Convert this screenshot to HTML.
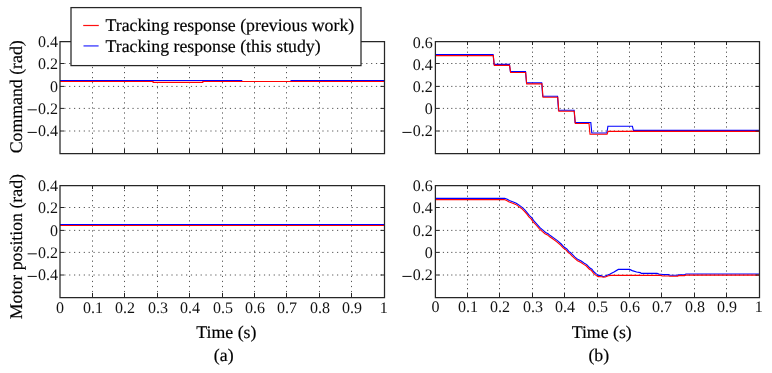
<!DOCTYPE html>
<html><head><meta charset="utf-8"><title>Tracking response</title>
<style>
html,body{margin:0;padding:0;background:#fff;}
body{width:772px;height:373px;overflow:hidden;}
svg{display:block;will-change:transform;}
text{font-family:"Liberation Serif",serif;fill:#111;text-rendering:geometricPrecision;}
.tk{font-size:16px;}
.lb{font-size:17.8px;fill:#000;stroke:#000;stroke-width:0.18px;}
.g{stroke:#555;stroke-width:1;fill:none;}
.t{stroke:#262626;stroke-width:1;fill:none;}
.f{stroke:#262626;stroke-width:1.25;fill:none;}
.b{stroke:#0000ff;stroke-width:1.15;fill:none;stroke-linejoin:miter;}
.r{stroke:#ff0000;stroke-width:1.1;fill:none;stroke-linejoin:miter;}
</style></head>
<body>
<svg width="772" height="373" viewBox="0 0 772 373">
<rect width="772" height="373" fill="#fff"/>
<path d="M92.5 41.5V153.5M124.5 41.5V153.5M157.5 41.5V153.5M189.5 41.5V153.5M222.5 41.5V153.5M254.5 41.5V153.5M286.5 41.5V153.5M319.5 41.5V153.5M351.5 41.5V153.5" class="g" stroke-dasharray="1.2 3.850" stroke-dashoffset="-0.200"/>
<path d="M60.0 63.5H384.5M60.0 86.4H384.5M60.0 108.4H384.5M60.0 131.0H384.5" class="g" stroke-dasharray="1.2 3.670" stroke-dashoffset="0.600"/>
<polyline points="60.0,80.5 241.7,80.5 241.7,81.5 291.1,81.5 291.1,80.5 384.4,80.5" class="b"/>
<polyline points="60.0,81.5 153.1,81.5 153.1,82.4 202.8,82.4 202.8,81.5 384.4,81.5" class="r"/>
<path d="M92.5 41.5v3.5M92.5 153.5v-4.5M124.5 41.5v3.5M124.5 153.5v-4.5M157.5 41.5v3.5M157.5 153.5v-4.5M189.5 41.5v3.5M189.5 153.5v-4.5M222.5 41.5v3.5M222.5 153.5v-4.5M254.5 41.5v3.5M254.5 153.5v-4.5M286.5 41.5v3.5M286.5 153.5v-4.5M319.5 41.5v3.5M319.5 153.5v-4.5M351.5 41.5v3.5M351.5 153.5v-4.5M60.0 63.5h4M384.5 63.5h-4M60.0 86.4h4M384.5 86.4h-4M60.0 108.4h4M384.5 108.4h-4M60.0 131.0h4M384.5 131.0h-4" class="t"/>
<path d="M60.0 41.5H384.5V153.5H60.0Z" class="f"/>
<text transform="translate(58.00 46.95) scale(1 1.0)" class="tk" text-anchor="end">0.4</text>
<text transform="translate(58.00 68.95) scale(1 1.0)" class="tk" text-anchor="end">0.2</text>
<text transform="translate(58.00 91.85) scale(1 1.0)" class="tk" text-anchor="end">0</text>
<text transform="translate(58.00 113.85) scale(1 1.0)" class="tk" text-anchor="end">0.2</text>
<rect x="27.60" y="109.30" width="9.2" height="1.05" fill="#1a1a1a"/>
<text transform="translate(58.00 136.45) scale(1 1.0)" class="tk" text-anchor="end">0.4</text>
<rect x="27.60" y="131.90" width="9.2" height="1.05" fill="#1a1a1a"/>
<path d="M467.5 41.5V153.5M499.5 41.5V153.5M532.5 41.5V153.5M564.5 41.5V153.5M597.5 41.5V153.5M629.5 41.5V153.5M661.5 41.5V153.5M694.5 41.5V153.5M726.5 41.5V153.5" class="g" stroke-dasharray="1.2 3.200" stroke-dashoffset="-1.300"/>
<path d="M435.4 63.5H759.5M435.4 86.4H759.5M435.4 108.4H759.5M435.4 131.0H759.5" class="g" stroke-dasharray="1.2 2.970" stroke-dashoffset="0.900"/>
<polyline points="435.3,54.5 493.1,54.5 494.1,64.4 509.4,64.4 510.4,71.5 525.5,71.5 526.5,82.9 541.7,82.9 542.7,96.2 557.5,96.2 558.5,110.2 574.1,110.2 575.1,122.5 590.8,122.5 591.8,133.0 606.9,133.0 607.9,126.2 632.4,126.2 633.4,130.3 759.5,130.3" class="b"/>
<polyline points="435.3,55.6 493.3,55.6 494.3,65.4 509.6,65.4 510.6,72.5 525.7,72.5 526.7,83.9 542.0,83.9 543.0,97.2 557.8,97.2 558.8,111.2 574.3,111.2 575.3,123.5 589.0,123.5 590.0,134.2 607.1,134.2 608.1,131.4 759.5,131.4" class="r"/>
<path d="M467.5 41.5v3.5M467.5 153.5v-4.5M499.5 41.5v3.5M499.5 153.5v-4.5M532.5 41.5v3.5M532.5 153.5v-4.5M564.5 41.5v3.5M564.5 153.5v-4.5M597.5 41.5v3.5M597.5 153.5v-4.5M629.5 41.5v3.5M629.5 153.5v-4.5M661.5 41.5v3.5M661.5 153.5v-4.5M694.5 41.5v3.5M694.5 153.5v-4.5M726.5 41.5v3.5M726.5 153.5v-4.5M435.4 63.5h4M759.5 63.5h-4M435.4 86.4h4M759.5 86.4h-4M435.4 108.4h4M759.5 108.4h-4M435.4 131.0h4M759.5 131.0h-4" class="t"/>
<path d="M435.4 41.5H759.5V153.5H435.4Z" class="f"/>
<text transform="translate(432.80 47.85) scale(1 1.0)" class="tk" text-anchor="end">0.6</text>
<text transform="translate(432.80 69.85) scale(1 1.0)" class="tk" text-anchor="end">0.4</text>
<text transform="translate(432.80 91.85) scale(1 1.0)" class="tk" text-anchor="end">0.2</text>
<text transform="translate(432.80 113.85) scale(1 1.0)" class="tk" text-anchor="end">0</text>
<text transform="translate(432.80 136.45) scale(1 1.0)" class="tk" text-anchor="end">0.2</text>
<rect x="402.40" y="131.90" width="9.2" height="1.05" fill="#1a1a1a"/>
<path d="M92.5 185.5V297.5M124.5 185.5V297.5M157.5 185.5V297.5M189.5 185.5V297.5M222.5 185.5V297.5M254.5 185.5V297.5M286.5 185.5V297.5M319.5 185.5V297.5M351.5 185.5V297.5" class="g" stroke-dasharray="1.2 3.850" stroke-dashoffset="0.600"/>
<path d="M60.0 207.5H384.5M60.0 230.4H384.5M60.0 252.4H384.5M60.0 275.0H384.5" class="g" stroke-dasharray="1.2 3.670" stroke-dashoffset="0.600"/>
<polyline points="60.0,224.5 384.4,224.5" class="b"/>
<polyline points="60.0,225.5 384.4,225.5" class="r"/>
<path d="M92.5 185.5v3.5M92.5 297.5v-4.5M124.5 185.5v3.5M124.5 297.5v-4.5M157.5 185.5v3.5M157.5 297.5v-4.5M189.5 185.5v3.5M189.5 297.5v-4.5M222.5 185.5v3.5M222.5 297.5v-4.5M254.5 185.5v3.5M254.5 297.5v-4.5M286.5 185.5v3.5M286.5 297.5v-4.5M319.5 185.5v3.5M319.5 297.5v-4.5M351.5 185.5v3.5M351.5 297.5v-4.5M60.0 207.5h4M384.5 207.5h-4M60.0 230.4h4M384.5 230.4h-4M60.0 252.4h4M384.5 252.4h-4M60.0 275.0h4M384.5 275.0h-4" class="t"/>
<path d="M60.0 185.5H384.5V297.5H60.0Z" class="f"/>
<text transform="translate(58.00 190.95) scale(1 1.0)" class="tk" text-anchor="end">0.4</text>
<text transform="translate(58.00 212.95) scale(1 1.0)" class="tk" text-anchor="end">0.2</text>
<text transform="translate(58.00 235.85) scale(1 1.0)" class="tk" text-anchor="end">0</text>
<text transform="translate(58.00 257.85) scale(1 1.0)" class="tk" text-anchor="end">0.2</text>
<rect x="27.60" y="253.30" width="9.2" height="1.05" fill="#1a1a1a"/>
<text transform="translate(58.00 280.45) scale(1 1.0)" class="tk" text-anchor="end">0.4</text>
<rect x="27.60" y="275.90" width="9.2" height="1.05" fill="#1a1a1a"/>
<text transform="translate(60.00 312.60) scale(1 1.0)" class="tk" text-anchor="middle">0</text>
<text transform="translate(92.90 312.60) scale(1 1.0)" class="tk" text-anchor="middle">0.1</text>
<text transform="translate(124.90 312.60) scale(1 1.0)" class="tk" text-anchor="middle">0.2</text>
<text transform="translate(157.90 312.60) scale(1 1.0)" class="tk" text-anchor="middle">0.3</text>
<text transform="translate(189.90 312.60) scale(1 1.0)" class="tk" text-anchor="middle">0.4</text>
<text transform="translate(222.90 312.60) scale(1 1.0)" class="tk" text-anchor="middle">0.5</text>
<text transform="translate(254.90 312.60) scale(1 1.0)" class="tk" text-anchor="middle">0.6</text>
<text transform="translate(286.90 312.60) scale(1 1.0)" class="tk" text-anchor="middle">0.7</text>
<text transform="translate(319.90 312.60) scale(1 1.0)" class="tk" text-anchor="middle">0.8</text>
<text transform="translate(351.90 312.60) scale(1 1.0)" class="tk" text-anchor="middle">0.9</text>
<text transform="translate(383.80 312.60) scale(1 1.0)" class="tk" text-anchor="middle">1</text>
<path d="M467.5 185.5V297.5M499.5 185.5V297.5M532.5 185.5V297.5M564.5 185.5V297.5M597.5 185.5V297.5M629.5 185.5V297.5M661.5 185.5V297.5M694.5 185.5V297.5M726.5 185.5V297.5" class="g" stroke-dasharray="1.2 3.200" stroke-dashoffset="-1.300"/>
<path d="M435.4 207.5H759.5M435.4 230.4H759.5M435.4 252.4H759.5M435.4 275.0H759.5" class="g" stroke-dasharray="1.2 2.970" stroke-dashoffset="0.900"/>
<polyline points="435.7,198.4 504.7,198.4 507.3,199.3 509.3,200.6 513.3,202.0 516.3,203.2 518.8,204.9 521.8,207.1 524.8,209.9 527.5,213.1 529.5,215.6 531.9,217.9 533.5,220.4 536.6,223.8 540.0,227.6 543.1,230.4 545.6,232.5 548.1,233.8 550.3,235.6 554.0,238.1 557.4,240.6 561.2,244.0 564.0,247.1 566.8,248.9 568.8,251.4 570.7,252.8 572.5,254.6 575.0,257.1 578.1,259.6 581.2,261.1 584.3,263.3 586.7,264.6 590.0,268.1 591.9,269.2 593.8,271.8 596.3,273.9 598.7,275.4 600.9,275.6 602.8,276.5 604.7,276.3 606.5,275.5 609.6,274.3 614.0,272.0 618.3,269.4 629.7,269.4 632.2,270.6 636.6,272.0 640.3,272.6 641.2,273.4 657.1,273.4 659.0,274.1 661.4,274.3 662.7,274.6 668.9,274.6 669.7,275.2 677.8,275.2 678.4,274.7 684.7,274.7 685.9,274.0 759.5,274.0" class="b"/>
<polyline points="435.1,199.6 504.1,199.6 506.7,200.5 508.7,201.8 512.7,203.2 515.7,204.4 518.2,206.1 521.2,208.2 524.2,211.1 526.9,214.2 528.9,216.8 531.3,219.1 532.9,221.6 536.0,225.0 539.4,228.8 542.5,231.6 545.0,233.7 547.5,234.9 549.7,236.8 553.4,239.2 556.8,241.8 560.6,245.2 563.4,248.2 566.2,250.1 568.2,252.6 570.1,253.9 571.9,255.8 574.4,258.2 577.5,260.7 580.6,262.2 583.7,264.4 586.1,265.8 589.4,269.2 591.3,270.4 593.2,272.9 595.7,275.1 598.1,276.6 601.5,276.8 603.4,277.3 605.3,277.0 608.4,275.7 610.9,275.4 660.2,275.4 662.7,276.0 669.1,276.0 669.7,276.3 677.8,276.3 678.4,275.6 684.7,275.6 685.9,275.1 759.5,275.1" class="r"/>
<path d="M467.5 185.5v3.5M467.5 297.5v-4.5M499.5 185.5v3.5M499.5 297.5v-4.5M532.5 185.5v3.5M532.5 297.5v-4.5M564.5 185.5v3.5M564.5 297.5v-4.5M597.5 185.5v3.5M597.5 297.5v-4.5M629.5 185.5v3.5M629.5 297.5v-4.5M661.5 185.5v3.5M661.5 297.5v-4.5M694.5 185.5v3.5M694.5 297.5v-4.5M726.5 185.5v3.5M726.5 297.5v-4.5M435.4 207.5h4M759.5 207.5h-4M435.4 230.4h4M759.5 230.4h-4M435.4 252.4h4M759.5 252.4h-4M435.4 275.0h4M759.5 275.0h-4" class="t"/>
<path d="M435.4 185.5H759.5V297.5H435.4Z" class="f"/>
<text transform="translate(432.80 190.95) scale(1 1.0)" class="tk" text-anchor="end">0.6</text>
<text transform="translate(432.80 212.95) scale(1 1.0)" class="tk" text-anchor="end">0.4</text>
<text transform="translate(432.80 235.85) scale(1 1.0)" class="tk" text-anchor="end">0.2</text>
<text transform="translate(432.80 257.85) scale(1 1.0)" class="tk" text-anchor="end">0</text>
<text transform="translate(432.80 280.45) scale(1 1.0)" class="tk" text-anchor="end">0.2</text>
<rect x="402.40" y="275.90" width="9.2" height="1.05" fill="#1a1a1a"/>
<text transform="translate(435.40 311.50) scale(1 1.0)" class="tk" text-anchor="middle">0</text>
<text transform="translate(467.90 311.50) scale(1 1.0)" class="tk" text-anchor="middle">0.1</text>
<text transform="translate(499.90 311.50) scale(1 1.0)" class="tk" text-anchor="middle">0.2</text>
<text transform="translate(532.90 311.50) scale(1 1.0)" class="tk" text-anchor="middle">0.3</text>
<text transform="translate(564.90 311.50) scale(1 1.0)" class="tk" text-anchor="middle">0.4</text>
<text transform="translate(597.90 311.50) scale(1 1.0)" class="tk" text-anchor="middle">0.5</text>
<text transform="translate(629.90 311.50) scale(1 1.0)" class="tk" text-anchor="middle">0.6</text>
<text transform="translate(661.90 311.50) scale(1 1.0)" class="tk" text-anchor="middle">0.7</text>
<text transform="translate(694.90 311.50) scale(1 1.0)" class="tk" text-anchor="middle">0.8</text>
<text transform="translate(726.90 311.50) scale(1 1.0)" class="tk" text-anchor="middle">0.9</text>
<text transform="translate(758.80 311.50) scale(1 1.0)" class="tk" text-anchor="middle">1</text>
<rect x="71" y="7.6" width="290" height="58" style="fill:#fff" class="f"/>
<line x1="83.2" y1="25.5" x2="98.8" y2="25.5" stroke="#ff1010" stroke-width="1.2"/>
<line x1="83.5" y1="45.9" x2="98.6" y2="45.9" stroke="#5c5cff" stroke-width="1.6"/>
<text x="105.5" y="31.1" class="lb">Tracking response (previous work)</text>
<text x="105.5" y="52.1" class="lb">Tracking response (this study)</text>
<text x="226.4" y="337.8" class="lb" text-anchor="middle">Time (s)</text>
<text x="601.7" y="337.8" class="lb" text-anchor="middle">Time (s)</text>
<text x="223.7" y="360.6" class="lb" text-anchor="middle">(a)</text>
<text x="598.8" y="360.6" class="lb" text-anchor="middle">(b)</text>
<text transform="translate(22.3 96.8) rotate(-90)" class="lb" text-anchor="middle">Command (rad)</text>
<text transform="translate(22.3 246.6) rotate(-90)" class="lb" text-anchor="middle">Motor position (rad)</text>
</svg>
</body></html>
